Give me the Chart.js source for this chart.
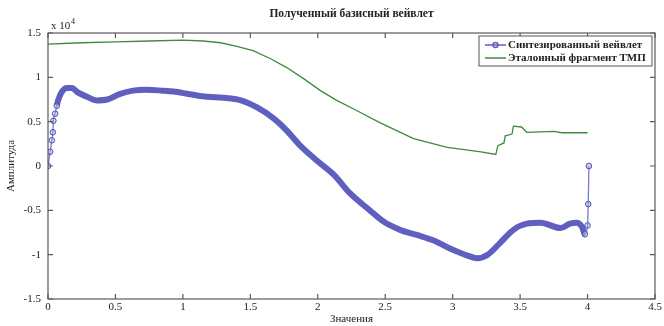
<!DOCTYPE html>
<html>
<head>
<meta charset="utf-8">
<script src="https://cdn.jsdelivr.net/npm/chart.js@4"></script>
<style>
  html, body { margin: 0; padding: 0; background: #fff; }
  #wrap { width: 664px; height: 326px; }
</style>
</head>
<body>
<div id="wrap"><canvas id="chart" width="664" height="326"></canvas></div>
<script>
const blueX = [0, 0.016, 0.028, 0.036, 0.04, 0.053, 0.065, 0.075, 0.10, 0.14, 0.177, 0.22, 0.29, 0.36, 0.44, 0.53, 0.63, 0.73,
  0.85, 0.93, 1.05, 1.18, 1.30, 1.43, 1.55, 1.67, 1.77, 1.87, 1.99, 2.12, 2.24, 2.37, 2.49, 2.61, 2.74, 2.86, 2.98,
  3.11, 3.18, 3.26, 3.35, 3.45, 3.55, 3.65, 3.80, 3.87, 3.92, 3.96, 3.98, 4.0, 4.005, 4.01];
const blueY = [0, 1600, 2900, 3800, 5100, 5900, 6800, 7400, 8300, 8800, 8800, 8300, 7800, 7400, 7500, 8100, 8500, 8600,
  8500, 8400, 8100, 7800, 7700, 7400, 6600, 5400, 4000, 2300, 650, -1000, -3100, -4800, -6300, -7200, -7800, -8400, -9300,
  -10100, -10400, -10000, -8700, -7200, -6500, -6400, -7000, -6500, -6400, -6900, -7700, -6700, -4300, 0];

const greenX = [0, 0.25, 0.5, 0.75, 1.0, 1.15, 1.28, 1.4, 1.52, 1.65, 1.77, 1.9, 2.02, 2.14, 2.27, 2.46, 2.71, 2.96, 3.21,
  3.32, 3.335, 3.38, 3.39, 3.44, 3.45, 3.51, 3.55, 3.75, 3.81, 4.0];
const greenY = [13750, 13900, 14000, 14100, 14200, 14100, 13900, 13500, 13000, 12100, 11100, 9800, 8500, 7400, 6400, 4900,
  3100, 2100, 1600, 1300, 2300, 2600, 3400, 3600, 4500, 4400, 3800, 3900, 3750, 3750];

const xTicks = [0, 0.5, 1, 1.5, 2, 2.5, 3, 3.5, 4, 4.5];
const yTicks = [-15000, -10000, -5000, 0, 5000, 10000, 15000];

const chartTitle = 'Полученный базисный вейвлет';
const seriesNames = ['Синтезированный вейвлет', 'Эталонный фрагмент ТМП'];
const xTitle = 'Значения';
const yTitle = 'Амплитуда';

const serif = '"Liberation Serif", "DejaVu Serif", serif';
const blueCol = '#5f5fc0';
const greenCol = '#3f8a3f';

// steep ends show single markers on a thin line, the rest is a dense band
const isSparse = i => i < 7 || i > blueX.length - 5;

// box, inward ticks on all sides, title, exponent and legend
const matlabLook = {
  id: 'matlabLook',
  afterDraw(chart) {
    const ctx = chart.ctx;
    const a = chart.chartArea;
    const xs = chart.scales.x, ys = chart.scales.y;
    ctx.save();
    ctx.strokeStyle = '#5a5a5a';
    ctx.lineWidth = 1.2;
    ctx.strokeRect(a.left, a.top, a.right - a.left, a.bottom - a.top);
    ctx.beginPath();
    xTicks.forEach(v => {
      const px = xs.getPixelForValue(v);
      ctx.moveTo(px, a.bottom); ctx.lineTo(px, a.bottom - 5);
      ctx.moveTo(px, a.top); ctx.lineTo(px, a.top + 5);
    });
    yTicks.forEach(v => {
      const py = ys.getPixelForValue(v);
      ctx.moveTo(a.left, py); ctx.lineTo(a.left + 5, py);
      ctx.moveTo(a.right, py); ctx.lineTo(a.right - 5, py);
    });
    ctx.stroke();

    ctx.fillStyle = '#222';
    ctx.font = 'bold 11.5px ' + serif;
    ctx.textAlign = 'center';
    ctx.textBaseline = 'middle';
    ctx.fillText(chartTitle, (a.left + a.right) / 2, 14);

    // exponent label
    ctx.textAlign = 'left';
    ctx.font = '11px ' + serif;
    ctx.fillText('x 10', a.left + 3, a.top - 7);
    ctx.font = '8px ' + serif;
    ctx.fillText('4', a.left + 23, a.top - 11);

    // legend box
    const lx = 479, ly = 36, lw = a.right - 3 - lx, lh = 30;
    ctx.fillStyle = '#fff';
    ctx.fillRect(lx, ly, lw, lh);
    ctx.strokeStyle = '#555';
    ctx.lineWidth = 1;
    ctx.strokeRect(lx, ly, lw, lh);
    const rows = [ly + 9, ly + 22];
    ctx.lineWidth = 1.5;
    ctx.strokeStyle = blueCol;
    ctx.beginPath(); ctx.moveTo(485, rows[0]); ctx.lineTo(506, rows[0]); ctx.stroke();
    ctx.beginPath(); ctx.arc(495.5, rows[0], 2.5, 0, Math.PI * 2); ctx.stroke();
    ctx.strokeStyle = greenCol;
    ctx.beginPath(); ctx.moveTo(485, rows[1]); ctx.lineTo(506, rows[1]); ctx.stroke();
    ctx.fillStyle = '#222';
    ctx.font = 'bold 11px ' + serif;
    ctx.fillText(seriesNames[0], 508, rows[0]);
    ctx.fillText(seriesNames[1], 508, rows[1]);
    ctx.restore();
  }
};

const ctx = document.getElementById('chart').getContext('2d');
new Chart(ctx, {
  type: 'line',
  data: {
    datasets: [{
      label: seriesNames[0],
      data: blueX.map((x, i) => ({ x: x, y: blueY[i] })),
      borderColor: blueCol,
      borderWidth: 6,
      cubicInterpolationMode: 'monotone',
      segment: {
        borderWidth: c => (isSparse(c.p0DataIndex) && isSparse(c.p1DataIndex)) ? 1.3 : 6,
        borderColor: c => (isSparse(c.p0DataIndex) && isSparse(c.p1DataIndex)) ? '#7b7bcc' : blueCol
      },
      pointRadius: c => isSparse(c.dataIndex) ? 2.8 : 0,
      pointBorderWidth: 1,
      pointBorderColor: '#5050b4',
      pointBackgroundColor: 'rgba(170,170,230,0.5)',
    }, {
      label: seriesNames[1],
      data: greenX.map((x, i) => ({ x: x, y: greenY[i] })),
      borderColor: greenCol,
      borderWidth: 1.3,
      pointRadius: 0,
      tension: 0,
    }]
  },
  plugins: [matlabLook],
  options: {
    responsive: false,
    animation: false,
    layout: { padding: { left: 0, top: 33, right: 9, bottom: 0 } },
    plugins: {
      legend: { display: false },
      title: { display: false },
      tooltip: { enabled: false }
    },
    scales: {
      x: {
        type: 'linear',
        min: 0, max: 4.5,
        afterFit: s => { s.height = 27; },
        afterBuildTicks: s => { s.ticks = xTicks.map(v => ({ value: v })); },
        grid: { display: false, drawTicks: false },
        border: { display: false },
        ticks: {
          padding: 2,
          color: '#222',
          font: { family: serif, size: 11 },
          maxRotation: 0,
          callback: v => String(v)
        },
        title: {
          display: true, text: xTitle, color: '#222',
          font: { family: serif, size: 11 }, padding: { top: -2, bottom: 0 }
        }
      },
      y: {
        min: -15000, max: 15000,
        afterFit: s => { s.width = 48; },
        afterBuildTicks: s => { s.ticks = yTicks.map(v => ({ value: v })); },
        grid: { display: false, drawTicks: false },
        border: { display: false },
        ticks: {
          padding: 7,
          color: '#222',
          font: { family: serif, size: 11 },
          callback: v => String(v / 10000)
        },
        title: {
          display: true, text: yTitle, color: '#222',
          font: { family: serif, size: 11 }, padding: { top: 5, bottom: 0 }
        }
      }
    }
  }
});
</script>
</body>
</html>
